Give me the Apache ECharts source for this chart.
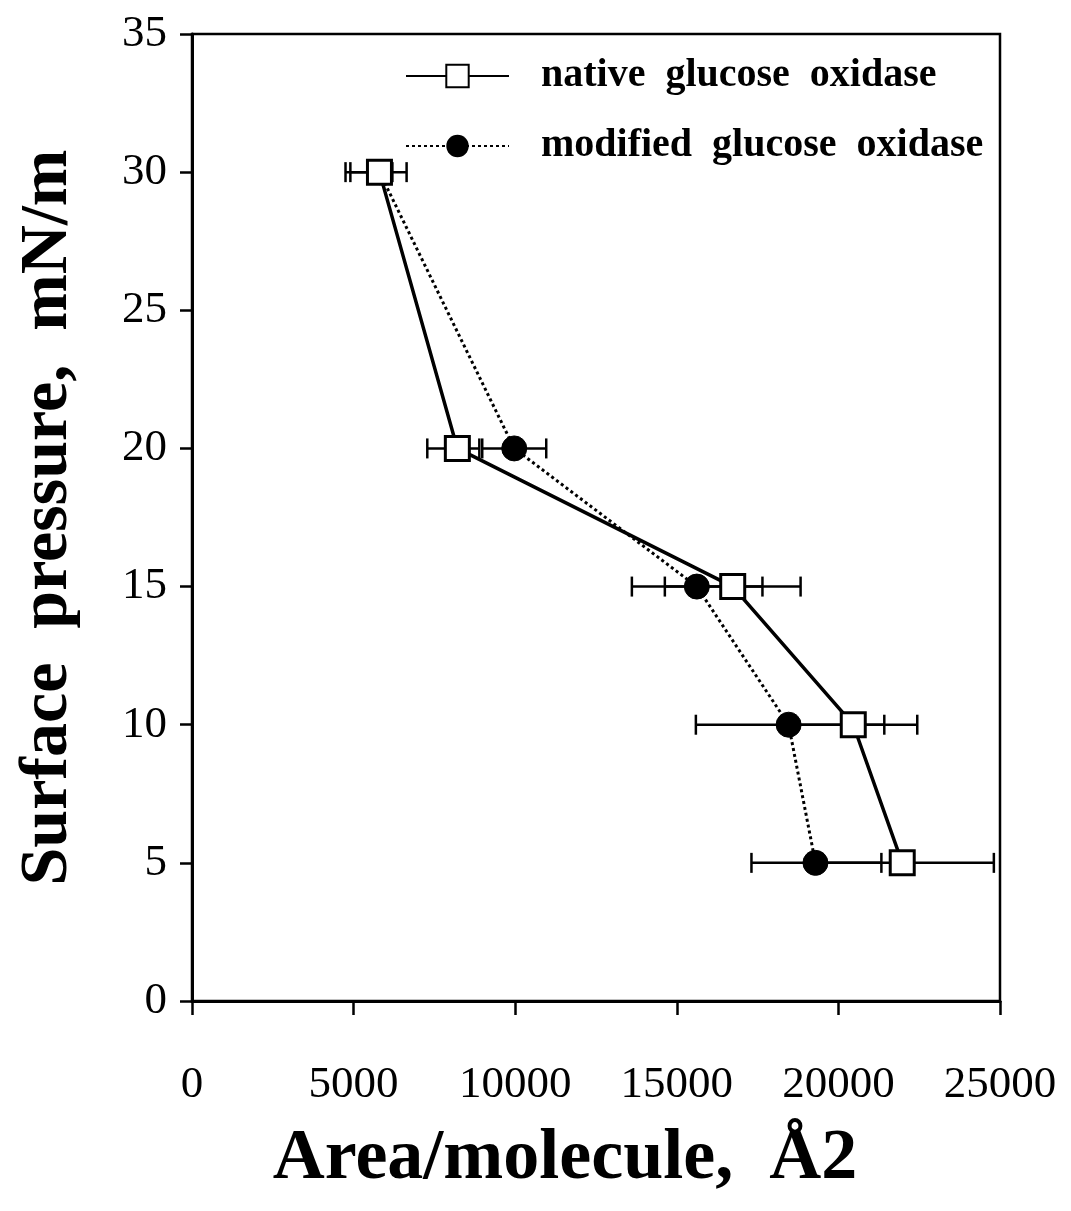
<!DOCTYPE html>
<html>
<head>
<meta charset="utf-8">
<script src="https://cdn.jsdelivr.net/npm/echarts@6/dist/echarts.min.js"></script>
<style>
html,body{margin:0;padding:0;background:#fff;}
#chart{width:1071px;height:1211px;}
</style>
</head>
<body>
<div id="chart"></div>
<script>
// Surface pressure levels (mN/m)
var pressure = [30, 20, 15, 10, 5];
// Native glucose oxidase: area/molecule (Å2) and error range
var nativeArea = [5800, 8210, 16730, 20460, 21975];
var nativeLow  = [4900, 7280, 14630, 18330, 19140];
var nativeHigh = [6640, 8890, 18830, 22440, 24810];
// Modified glucose oxidase: area/molecule (Å2) and error range
var modArea = [5800, 9970, 15620, 18460, 19290];
var modLow  = [4750, 8980, 13610, 15590, 17310];
var modHigh = [6200, 10960, 17650, 21420, 21330];

var xTicks = [0, 5000, 10000, 15000, 20000, 25000];
var yTicks = [0, 5, 10, 15, 20, 25, 30, 35];

var serif = '"Liberation Serif", "DejaVu Serif", serif';

function pairs(xs, ys) { return xs.map(function (x, i) { return [x, ys[i]]; }); }
function errData(lo, hi, ys) { return ys.map(function (y, i) { return [lo[i], hi[i], y]; }); }

function errRender(params, api) {
  var lo = api.coord([api.value(0), api.value(2)]);
  var hi = api.coord([api.value(1), api.value(2)]);
  var cap = 10;
  var st = { stroke: '#000', lineWidth: 2.5 };
  return {
    type: 'group',
    children: [
      { type: 'line', shape: { x1: lo[0], y1: lo[1], x2: hi[0], y2: hi[1] }, style: st },
      { type: 'line', shape: { x1: lo[0], y1: lo[1] - cap, x2: lo[0], y2: lo[1] + cap }, style: st },
      { type: 'line', shape: { x1: hi[0], y1: hi[1] - cap, x2: hi[0], y2: hi[1] + cap }, style: st }
    ]
  };
}

var chart = echarts.init(document.getElementById('chart'), null, { renderer: 'canvas' });
chart.setOption({
  animation: false,
  backgroundColor: '#fff',
  grid: {
    left: 192, right: 71, top: 34, bottom: 210,
    show: true, borderColor: '#000', borderWidth: 2.5, backgroundColor: 'transparent'
  },
  legend: {
    orient: 'vertical',
    left: 405, top: 56, padding: 0,
    itemWidth: 103, itemHeight: 28, itemGap: 30,
    data: ['native  glucose  oxidase', 'modified  glucose  oxidase'],
    textStyle: { fontFamily: serif, fontWeight: 'bold', fontSize: 40, color: '#000', lineHeight: 40, padding: [0, 0, 0, 27] }
  },
  xAxis: {
    type: 'value', min: 0, max: 25000, interval: 5000,
    name: 'Area/molecule,  Å2', nameLocation: 'middle', nameGap: 122,
    nameTextStyle: { fontFamily: serif, fontWeight: 'bold', fontSize: 72, color: '#000', padding: [0, 62, 0, 0] },
    axisLine: { lineStyle: { color: '#000', width: 3 } },
    axisTick: { show: true, inside: false, length: 14, lineStyle: { color: '#000', width: 2.5 } },
    axisLabel: {
      fontFamily: serif, fontSize: 45, color: '#000', margin: 62,
      formatter: function (v) { return String(v); }
    },
    splitLine: { show: false }
  },
  yAxis: {
    type: 'value', min: 0, max: 35, interval: 5,
    name: 'Surface  pressure,  mN/m', nameLocation: 'middle', nameGap: 110, nameRotate: 90,
    nameTextStyle: { fontFamily: serif, fontWeight: 'bold', fontSize: 68, color: '#000' },
    axisLine: { lineStyle: { color: '#000', width: 3 } },
    axisTick: { show: true, inside: false, length: 12, lineStyle: { color: '#000', width: 2.5 } },
    axisLabel: {
      fontFamily: serif, fontSize: 45, color: '#000', margin: 25,
      formatter: function (v) { return String(v); }
    },
    splitLine: { show: false }
  },
  series: [
    {
      type: 'custom', name: 'errMod', renderItem: errRender,
      data: errData(modLow, modHigh, pressure), z: 1, silent: true
    },
    {
      type: 'custom', name: 'errNative', renderItem: errRender,
      data: errData(nativeLow, nativeHigh, pressure), z: 1, silent: true
    },
    {
      type: 'line', name: 'modified  glucose  oxidase',
      data: pairs(modArea, pressure),
      lineStyle: { color: '#000', width: 3, type: [3, 3] },
      symbol: 'circle', symbolSize: 25,
      itemStyle: { color: '#000', borderColor: '#000' },
      z: 3
    },
    {
      type: 'line', name: 'native  glucose  oxidase',
      data: pairs(nativeArea, pressure),
      lineStyle: { color: '#000', width: 3.5 },
      symbol: 'rect', symbolSize: 24,
      itemStyle: { color: '#fff', borderColor: '#000', borderWidth: 3 },
      z: 4
    }
  ]
});
</script>
</body>
</html>
